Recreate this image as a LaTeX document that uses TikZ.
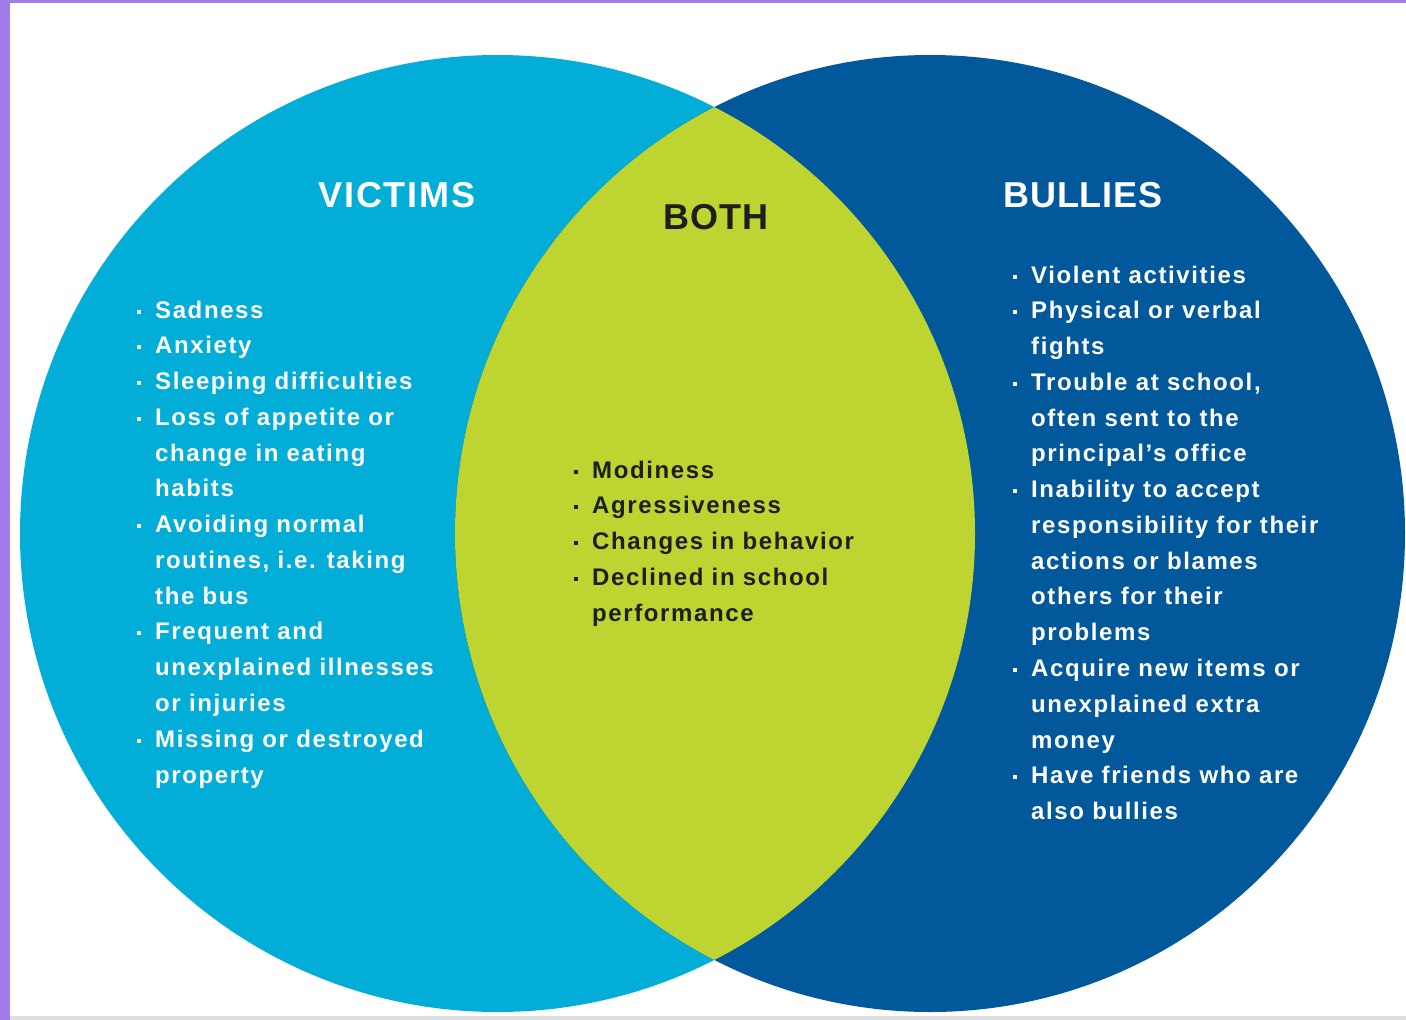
\documentclass[tikz,border=0pt]{standalone}
\usepackage{fontspec}
\setmainfont{Liberation Sans}
\newfontfamily\bodyfont{Liberation Sans}[LetterSpace=6.7]
\newfontfamily\headfont{Liberation Sans}[LetterSpace=2]
\definecolor{lb}{HTML}{02ADD8}
\definecolor{db}{HTML}{01589A}
\definecolor{gr}{HTML}{BDD431}
\definecolor{frame}{HTML}{A47BEA}
\definecolor{dk}{HTML}{1E1E1E}
\definecolor{base}{HTML}{DEDEDE}
\newcommand\bul{\llap{\raisebox{4.5pt}{\rule{4pt}{4pt}}\hspace{14pt}}}
\begin{document}
\begin{tikzpicture}[x=1pt,y=-1pt,
  body/.style={font={\bodyfont\bfseries\fontsize{24pt}{28pt}\selectfont}, anchor=base west, inner sep=0pt},
  head/.style={font={\headfont\bfseries\fontsize{36pt}{40pt}\selectfont}, anchor=base, inner sep=0pt},
]
\useasboundingbox (0,0) rectangle (1406,1020);
\fill[white] (0,0) rectangle (1406,1020);
\fill[base] (10,1016) rectangle (1406,1020);
% circles
\fill[lb] (497.5,533.5) ellipse [x radius=477.5pt, y radius=478.5pt];
\fill[db] (930,533.5) ellipse [x radius=475pt, y radius=478.5pt];
\begin{scope}
  \clip (497.5,533.5) ellipse [x radius=477.5pt, y radius=478.5pt];
  \fill[gr] (930,533.5) ellipse [x radius=475pt, y radius=478.5pt];
\end{scope}
% frame
\fill[frame] (0,0) rectangle (10,1020);
\fill[frame] (0,0) rectangle (1406,3);
% headings
\node[head,text=white] (victims) at (397,207) {\addfontfeature{LetterSpace=5}VICTIMS};
\node[head,text=dk] (both) at (716,229) {BOTH};
\node[head,text=white] (bullies) at (1083,207) {BULLIES};
% victims list
\foreach \t [count=\i] in {
  {\bul Sadness},
  {\bul Anxiety},
  {\bul Sleeping difficulties},
  {\bul Loss of appetite or},
  {change in eating},
  {habits},
  {\bul Avoiding normal},
  {routines, i.e. taking},
  {the bus},
  {\bul Frequent and},
  {unexplained illnesses},
  {or injuries},
  {\bul Missing or destroyed},
  {property}}
  \node[body,text=white] (v\i) at (155,{318+(\i-1)*35.77}) {\t};
% both list
\foreach \t [count=\i] in {
  {\bul Modiness},
  {\bul Agressiveness},
  {\bul Changes in behavior},
  {\bul Declined in school},
  {performance}}
  \node[body,text=dk] (b\i) at (592,{478+(\i-1)*35.77}) {\t};
% bullies list
\foreach \t [count=\i] in {
  {\bul Violent activities},
  {\bul Physical or verbal},
  {fights},
  {\bul Trouble at school,},
  {often sent to the},
  {principal’s office},
  {\bul Inability to accept},
  {responsibility for their},
  {actions or blames},
  {others for their},
  {problems},
  {\bul Acquire new items or},
  {unexplained extra},
  {money},
  {\bul Have friends who are},
  {also bullies}}
  \node[body,text=white] (u\i) at (1031,{283+(\i-1)*35.77}) {\t};
\end{tikzpicture}
\end{document}
